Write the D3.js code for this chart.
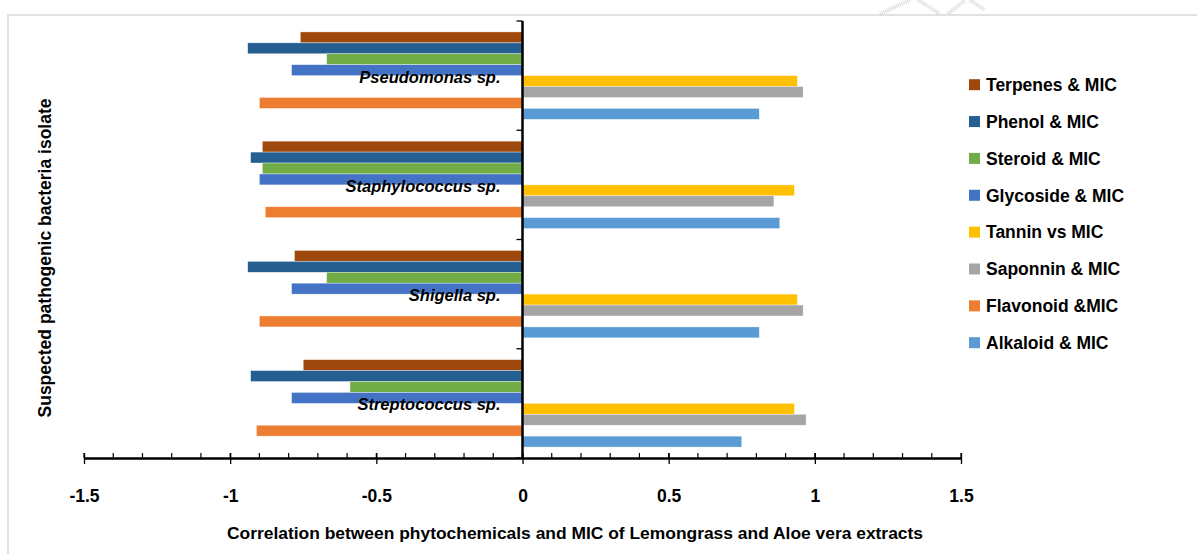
<!DOCTYPE html>
<html>
<head>
<meta charset="utf-8">
<script src="https://cdn.jsdelivr.net/npm/d3@7"></script>
<style>
  body { margin: 0; background: #fff; }
  svg { display: block; }
  text { font-family: "Liberation Sans", Arial, sans-serif; font-weight: bold; fill: #000; }
</style>
</head>
<body>
<svg id="chart" width="1197" height="554"></svg>
<script>
// Isolates (top to bottom) and correlation series (top to bottom within each isolate)
const isolates = ["Pseudomonas sp.", "Staphylococcus sp.", "Shigella sp.", "Streptococcus sp."];
const seriesNames = ["Terpenes & MIC", "Phenol & MIC", "Steroid & MIC", "Glycoside & MIC",
                     "Tannin vs MIC", "Saponnin & MIC", "Flavonoid &MIC", "Alkaloid & MIC"];
const seriesColors = ["#9E480E", "#255E91", "#70AD47", "#4472C4",
                      "#FFC000", "#A5A5A5", "#ED7D31", "#5B9BD5"];

// Correlation coefficients, one value per isolate
const terpenes  = [-0.76, -0.89, -0.78, -0.75];
const phenol    = [-0.94, -0.93, -0.94, -0.93];
const steroid   = [-0.67, -0.89, -0.67, -0.59];
const glycoside = [-0.79, -0.90, -0.79, -0.79];
const tannin    = [0.94, 0.93, 0.94, 0.93];
const saponnin  = [0.96, 0.86, 0.96, 0.97];
const flavonoid = [-0.90, -0.88, -0.90, -0.91];
const alkaloid  = [0.81, 0.88, 0.81, 0.75];

const xTicks = [-1.5, -1, -0.5, 0, 0.5, 1, 1.5];
const xTitle = "Correlation between phytochemicals and MIC of Lemongrass and Aloe vera extracts";
const yTitle = "Suspected pathogenic bacteria isolate";

const seriesValues = [terpenes, phenol, steroid, glycoside, tannin, saponnin, flavonoid, alkaloid];
const rows = [];
isolates.forEach((iso, i) => {
  seriesNames.forEach((s, j) => rows.push({ iso, series: s, color: seriesColors[j], value: seriesValues[j][i] }));
});

const svg = d3.select("#chart");

// outer frame
svg.append("rect")
  .attr("x", 8).attr("y", 15).attr("width", 1300).attr("height", 700)
  .attr("fill", "none").attr("stroke", "#d9d9d9").attr("stroke-width", 1.5);

// faint ornament in the top-right corner
const orn = svg.append("g").attr("fill", "none").attr("stroke", "#cfcfcf")
  .attr("stroke-width", 4).attr("stroke-dasharray", "1 1").attr("opacity", 0.8);
orn.append("path").attr("d", "M880,14 L910,0 M918,0 L940,14");
orn.append("path").attr("d", "M948,14 L965,0 M970,0 L985,10");

const x = d3.scaleLinear().domain([-1.5, 1.5]).range([84, 961]);
const y0 = d3.scaleBand().domain(isolates).range([21, 458]).paddingInner(0.2).paddingOuter(0.1);
const y1 = d3.scaleBand().domain(seriesNames).range([0, y0.bandwidth()]);

// bars
svg.append("g").selectAll("rect").data(rows).join("rect")
  .attr("x", d => x(Math.min(0, d.value)))
  .attr("y", d => y0(d.iso) + y1(d.series))
  .attr("width", d => Math.abs(x(d.value) - x(0)))
  .attr("height", y1.bandwidth())
  .attr("fill", d => d.color)
  .attr("stroke", "#ffffff").attr("stroke-opacity", 0.6).attr("stroke-width", 0.6);

// x axis with minor ticks
const axisY = 458;
const xAxis = svg.append("g").attr("transform", `translate(0,${axisY})`);
const minor = d3.range(-15, 16).map(i => i / 10);
xAxis.selectAll("line.minor").data(minor).join("line")
  .attr("class", "minor")
  .attr("x1", d => x(d)).attr("x2", d => x(d))
  .attr("y1", -5).attr("y2", 0)
  .attr("stroke", "#000").attr("stroke-width", 1.2);
xAxis.call(d3.axisBottom(x).tickValues(xTicks).tickSize(6).tickSizeOuter(0).tickFormat(d => String(d)))
  .call(g => g.select(".domain").attr("stroke", "#000").attr("stroke-width", 2.5))
  .call(g => g.selectAll(".tick line").attr("y1", -5).attr("y2", 6).attr("stroke-width", 1.3))
  .call(g => g.selectAll(".tick text").attr("y", 0).attr("dy", "44px")
    .style("font-family", "\"Liberation Sans\", Arial, sans-serif").style("font-weight", "bold").style("font-size", "17.5px"));

// y axis at zero
const yAxis = svg.append("g");
yAxis.append("line")
  .attr("x1", x(0)).attr("x2", x(0)).attr("y1", 21).attr("y2", axisY)
  .attr("stroke", "#000").attr("stroke-width", 2.5);
const yTickPos = isolates.map(d => y0(d) - y0.step() * y0.paddingInner() / 2).concat([458]);
yAxis.selectAll("line.yt").data(yTickPos).join("line")
  .attr("class", "yt")
  .attr("x1", x(0) - 6).attr("x2", x(0))
  .attr("y1", d => d).attr("y2", d => d)
  .attr("stroke", "#000").attr("stroke-width", 1.3);

// isolate labels
svg.append("g").selectAll("text").data(isolates).join("text")
  .attr("x", x(0) - 22)
  .attr("y", d => y0(d) + y0.bandwidth() / 2 + 7)
  .attr("text-anchor", "end")
  .style("font-size", "16.5px").style("font-style", "italic")
  .text(d => d);

// legend
const legend = svg.append("g");
seriesNames.forEach((s, i) => {
  const cy = 84.7 + i * 36.86;
  legend.append("rect").attr("x", 969).attr("y", cy - 5.5).attr("width", 11).attr("height", 11).attr("fill", seriesColors[i]);
  legend.append("text").attr("x", 986).attr("y", cy + 6.3).style("font-size", "17.5px").text(s);
});

// axis titles
svg.append("text")
  .attr("x", 575).attr("y", 539).attr("text-anchor", "middle")
  .attr("textLength", 696).attr("lengthAdjust", "spacingAndGlyphs")
  .style("font-size", "17px").text(xTitle);

svg.append("text")
  .attr("transform", "translate(51,258) rotate(-90)")
  .attr("text-anchor", "middle")
  .style("font-size", "17.5px").text(yTitle);
</script>
</body>
</html>
